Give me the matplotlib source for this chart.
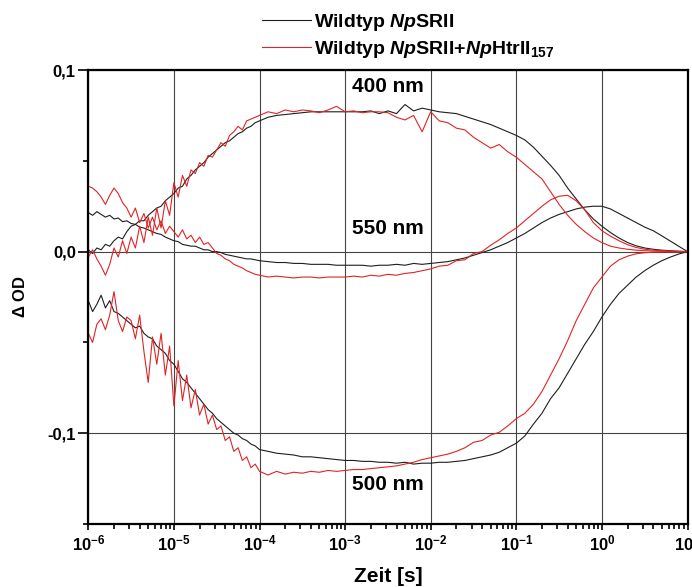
import matplotlib
matplotlib.use('Agg')
import matplotlib.pyplot as plt
from matplotlib.ticker import FixedLocator, FuncFormatter, LogLocator, NullFormatter
import numpy as np

plt.rcParams['font.family'] = 'Liberation Sans'
plt.rcParams['font.weight'] = 'bold'
plt.rcParams['mathtext.fontset'] = 'custom'
plt.rcParams['mathtext.rm'] = 'Liberation Sans:bold'
plt.rcParams['mathtext.bf'] = 'Liberation Sans:bold'
plt.rcParams['mathtext.it'] = 'Liberation Sans:bold:italic'

# log10 of time [s]
log_t = [-6.00, -5.95, -5.90, -5.85, -5.80, -5.75, -5.70, -5.65, -5.60, -5.55,
         -5.50, -5.45, -5.40, -5.35, -5.30, -5.25, -5.20, -5.15, -5.10, -5.05,
         -5.00, -4.95, -4.90, -4.85, -4.80, -4.75, -4.70, -4.65, -4.60, -4.55,
         -4.50, -4.45, -4.40, -4.35, -4.30, -4.25, -4.20, -4.15, -4.10, -4.05,
         -4.0, -3.9, -3.8, -3.7, -3.6, -3.5, -3.4, -3.3, -3.2, -3.1,
         -3.0, -2.9, -2.8, -2.7, -2.6, -2.5, -2.4, -2.3, -2.2, -2.1,
         -2.0, -1.9, -1.8, -1.7, -1.6, -1.5, -1.4, -1.3, -1.2, -1.1,
         -1.0, -0.9, -0.8, -0.7, -0.6, -0.5, -0.4, -0.3, -0.2, -0.1,
         0.0, 0.1, 0.2, 0.3, 0.4, 0.5, 0.6, 0.7, 0.8, 0.9,
         1.0]

# delta OD in mOD
wt_400 = [1, -1, 2, 1, 4, 3, 6, 8, 7, 11,
          14, 15, 17, 17, 20, 22, 24, 25, 28, 30,
          32, 35, 36, 40, 42, 45, 47, 49, 52, 54,
          56, 58, 60, 61, 63, 65, 66, 68, 69, 71,
          72, 74, 75, 75.5, 76, 76.5, 77, 77, 77, 77,
          77, 77, 77, 77.5, 76, 77.5, 76, 81, 77.5, 79,
          78, 77, 76.5, 76, 74.5, 73, 71.5, 70, 68, 66,
          64, 61.5, 57.5, 52.5, 47.5, 42, 35, 29, 23, 18,
          14, 10.5, 7.5, 5, 3.2, 2, 1.3, 0.8, 0.5, 0.2,
          0]
htr_400 = [-3, 1, -4, -8, -13, -7, 2, -3, 6, -1,
           8, 2, 14, 5, 19, 9, 24, 13, 28, 20,
           38, 30, 42, 36, 45, 43, 49, 47, 53, 52,
           56, 60, 58, 64, 66, 69, 67, 72, 73, 74,
           75, 77, 76, 78, 77, 78, 77.5, 76.5, 78, 80,
           77, 77.5, 76.5, 77, 77, 76.5, 74, 72.5, 75, 66,
           77, 72, 71, 68, 67, 63, 60, 57, 59, 55,
           52, 48, 44, 40, 33, 26, 20, 15, 11, 7.5,
           5, 3, 2, 1.3, 0.8, 0.5, 0.3, 0.2, 0.1, 0.05,
           0]
wt_550 = [21.5, 20, 22, 20.5, 19, 20, 18, 18.5, 16.5, 17,
          15.5, 15, 13.5, 13, 12, 11, 10, 9.5, 8, 7,
          6, 5.5, 4, 3.5, 3, 3, 2, 1, 1, 0,
          0, -0.5, -1.5, -2, -2.5, -3, -3.5, -4, -4, -4.5,
          -5, -5.5, -6, -6, -6.5, -6.5, -7, -7, -7, -7.5,
          -7.5, -7.5, -7.5, -8, -7.5, -7.5, -7, -7.5, -6.5, -7,
          -6.5, -6, -5.5, -4.5, -3.5, -2, -0.5, 1, 3, 5,
          7.5, 10, 13, 16, 18.5, 20.5, 22, 23.5, 24.5, 25,
          25, 23.5, 21, 18.5, 16, 13.5, 11.5, 8.7, 5.8, 2.9,
          0]
htr_550 = [36, 35, 33, 30, 26, 31, 35, 32, 27, 24,
           19, 24, 16, 21, 13, 19, 12, 17, 10, 14,
           11, 8, 12, 7, 9, 5, 8, 4, 5, 2,
           -1, -2, -4, -5, -7, -8, -9, -10.5, -11.5, -12.5,
           -13, -14, -13.5, -14, -14.5, -14, -14, -14.5, -14, -14,
           -14, -13.5, -14, -13, -13.5, -12.5, -13, -12, -11.5, -10.5,
           -9.5, -8, -7.5, -5, -4.5, -1, 0, 3.5, 6.5, 10,
           13, 17, 21, 25, 28.5, 30.5, 31, 28, 23, 16,
           11.5, 8.5, 6, 3.8, 2.3, 1.3, 0.8, 0.5, 0.3, 0.15,
           0]
wt_500 = [-27, -33, -29, -24, -31, -27, -33, -34, -36, -38,
          -40, -42, -41, -45, -47, -48, -52, -54, -56, -60,
          -62, -66, -70, -72, -75, -78, -81, -84, -87, -89,
          -92, -94, -96, -98, -100, -101, -103, -104, -106, -107,
          -109, -110, -111, -111.5, -112, -113, -113, -113.5, -114, -114.5,
          -115, -115, -115.5, -115.5, -116, -116, -116.5, -116, -117, -116.5,
          -116.5, -116, -116, -115.5, -115, -114, -113, -112, -110.5, -108,
          -105.5, -101.5, -95, -89, -81, -75, -67, -59, -51, -44,
          -36, -29, -23, -18.5, -14, -10.5, -7.5, -5, -3, -1.3,
          0]
htr_500 = [-45, -50, -40, -37, -43, -35, -22, -38, -44, -36,
           -38, -48, -35, -55, -72, -47, -62, -45, -68, -52,
           -85, -60, -82, -68, -86, -76, -90, -84, -95, -90,
           -98, -96, -104, -102, -110, -108, -115, -113, -119, -117,
           -121, -123, -121, -122.5, -121.5, -122, -121, -121.5, -120.5, -121,
           -120.5, -120, -120, -119.5, -119, -118.5, -118, -117, -116, -114.5,
           -113.5, -112.5, -111.5, -110, -108, -105, -104, -101, -99.5, -96,
           -92, -89, -84, -77, -68, -59, -49, -38, -29, -20,
           -14, -8, -4.5, -2.5, -1.2, -0.6, -0.3, -0.2, -0.1, -0.05,
           0]

legend_labels = [r'Wildtyp $\mathit{Np}$SRII',
                 r'Wildtyp $\mathit{Np}$SRII+$\mathit{Np}$HtrII$_{157}$']
decades = [-6, -5, -4, -3, -2, -1, 0, 1]
ytick_vals = [-0.1, 0.0, 0.1]
ytick_labels = ['-0,1', '0,0', '0,1']

t = 10.0 ** np.array(log_t)
black = '#1e1e1e'
red = '#e02424'

fig = plt.figure(figsize=(6.92, 5.87), dpi=100)
ax = fig.add_axes([0.1276, 0.1073, 0.8659, 0.7734])

l1, = ax.plot(t, np.array(wt_400) / 1000, color=black, lw=0.8)
ax.plot(t, np.array(wt_550) / 1000, color=black, lw=0.8)
ax.plot(t, np.array(wt_500) / 1000, color=black, lw=0.8)
l2, = ax.plot(t, np.array(htr_400) / 1000, color=red, lw=0.8)
ax.plot(t, np.array(htr_550) / 1000, color=red, lw=0.8)
ax.plot(t, np.array(htr_500) / 1000, color=red, lw=0.8)

ax.set_xscale('log')
ax.set_xlim(1e-6, 10)
ax.set_ylim(-0.15, 0.1)

ax.xaxis.set_major_locator(FixedLocator([10.0 ** d for d in decades]))
ax.xaxis.set_major_formatter(FuncFormatter(lambda v, p: r'$10^{%d}$' % round(np.log10(v))))
ax.xaxis.set_minor_locator(LogLocator(base=10, subs=np.arange(2, 10), numticks=10))
ax.xaxis.set_minor_formatter(NullFormatter())
ax.yaxis.set_major_locator(FixedLocator(ytick_vals))
ax.set_yticklabels(ytick_labels)
ax.yaxis.set_minor_locator(FixedLocator([-0.15, -0.05, 0.05]))

ax.tick_params(axis='y', which='major', direction='out', length=7, width=1.2, labelsize=12, pad=2)
ax.tick_params(axis='y', which='minor', direction='out', length=3.5, width=1.2)
ax.tick_params(axis='x', which='major', direction='out', length=4.5, width=1.2, labelsize=12, pad=2)
ax.tick_params(axis='x', which='minor', direction='out', length=3.5, width=1.2)

for s in ax.spines.values():
    s.set_linewidth(1.6)

ax.grid(True, which='major', color='#444444', lw=0.8)

ax.set_ylabel(r'$\Delta$ OD', fontsize=12, fontweight='bold', labelpad=14)
ax.set_xlabel('Zeit [s]', fontsize=15, fontweight='bold', labelpad=10)

ax.text(10 ** -2.5, 0.091, '400 nm', ha='center', va='center', fontsize=15, fontweight='bold')
ax.text(10 ** -2.5, 0.0125, '550 nm', ha='center', va='center', fontsize=15, fontweight='bold')
ax.text(10 ** -2.5, -0.128, '500 nm', ha='center', va='center', fontsize=15, fontweight='bold')

fig.legend([l1, l2], legend_labels, loc='upper left', bbox_to_anchor=(262 / 692, 1 - 12 / 587),
           frameon=False, fontsize=14, handlelength=2.5, handletextpad=0.2,
           borderpad=0, borderaxespad=0, labelspacing=0.3)

fig.savefig('out.png', dpi=100)
